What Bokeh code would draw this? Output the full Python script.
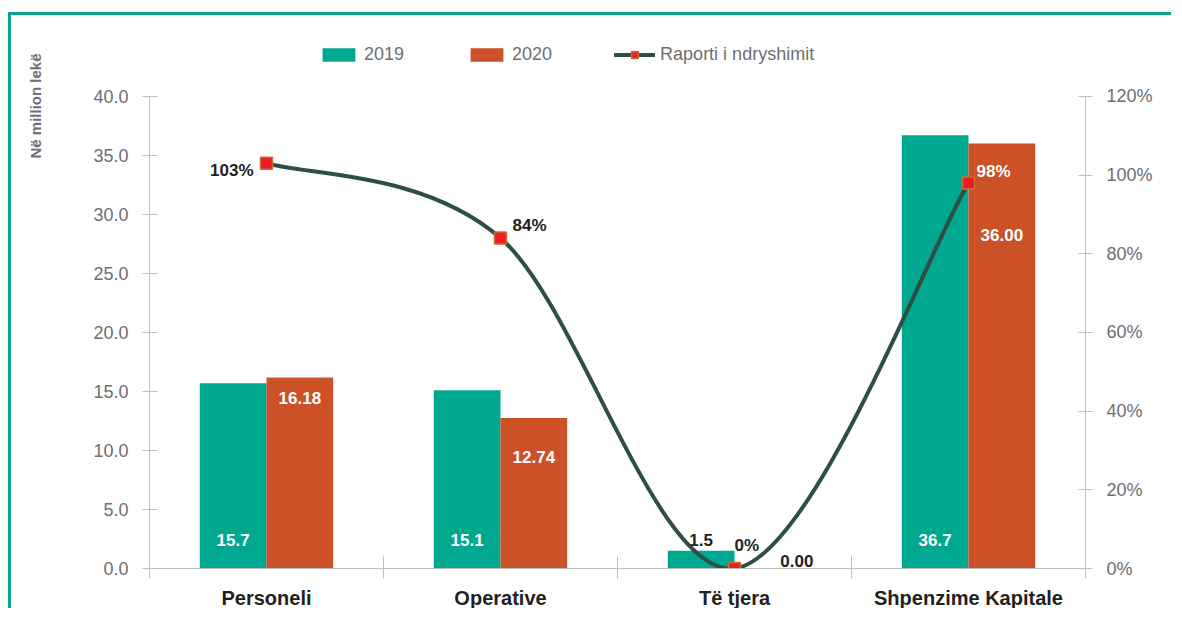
import math
from bokeh.plotting import figure
from bokeh.models import (ColumnDataSource, Range1d, LinearAxis, FixedTicker,
                          NumeralTickFormatter, PrintfTickFormatter, Legend,
                          LegendItem, Title)
from bokeh.core.properties import value
from bokeh.embed import file_html
from bokeh.resources import INLINE

# ---------------- data ----------------
categories = ["Personeli", "Operative", "Të tjera", "Shpenzime Kapitale"]
val_2019 = [15.7, 15.1, 1.5, 36.7]
val_2020 = [16.18, 12.74, 0.00, 36.00]
ratio_pct = [103, 84, 0, 98]
labels_2019 = ["15.7", "15.1", "1.5", "36.7"]
labels_2020 = ["16.18", "12.74", "0.00", "36.00"]
labels_ratio = ["103%", "84%", "0%", "98%"]
left_ticks = [0, 5, 10, 15, 20, 25, 30, 35, 40]
right_ticks = [0, 20, 40, 60, 80, 100, 120]

# ---------------- style ----------------
TEAL = "#00a88f"
ORANGE = "#cc5128"
LINE = "#2d4f46"
MARK = "#ed1c24"
MARK_EDGE = "#c8702c"
DARK = "#231f20"
GRAY = "#6d6e71"
AXIS = "#bfbfbf"
NARROW = "'Liberation Sans Narrow', 'Liberation Sans', sans-serif"
SANS = "'Liberation Sans', Arial, sans-serif"
BAR_W = 0.285
HEADROOM = 1.15   # extra room above the axis top for the legend

# label placement (pixels)
lab19_dy = [-29, -29, -29, -29]
lab19_col = ["white", "white", DARK, "white"]
lab20_dx = [0, 0, 29, 0]
lab20_dy = [20, 39, -8, 91]
lab20_col = ["white", "white", DARK, "white"]
rat_align = ["right", "left", "left", "left"]
rat_dx = [-13, 12, 0, 8]
rat_dy = [7, -12, -23, -11]
rat_col = [DARK, DARK, DARK, "white"]

n = len(categories)
centers = [i + 0.5 for i in range(n)]
x19 = [c - BAR_W / 2 for c in centers]
x20 = [c + BAR_W / 2 for c in centers]
left_max = max(left_ticks)
right_max = max(right_ticks)

p = figure(width=1163, height=596, output_backend="svg", toolbar_location=None,
           x_range=Range1d(0, n), y_range=Range1d(0, left_max * HEADROOM),
           min_border_left=136, min_border_right=89, min_border_top=10,
           min_border_bottom=42)
p.extra_y_ranges = {"pct": Range1d(0, right_max * HEADROOM)}
p.outline_line_color = None
p.xgrid.grid_line_color = None
p.ygrid.grid_line_color = None
p.background_fill_color = "white"
p.border_fill_color = "white"
p.styles = {"border-top": "3px solid #0ba48d", "border-left": "3px solid #0ba48d",
            "margin-top": "12px", "margin-left": "8px"}

# bars
src19 = ColumnDataSource(dict(x=x19, top=val_2019, lab=labels_2019,
                              dy=lab19_dy, col=lab19_col))
src20 = ColumnDataSource(dict(x=x20, top=val_2020, lab=labels_2020,
                              dx=lab20_dx, dy=lab20_dy, col=lab20_col))
r19 = p.vbar(x="x", top="top", width=BAR_W, bottom=0, source=src19,
             fill_color=TEAL, line_color=None)
r20 = p.vbar(x="x", top="top", width=BAR_W, bottom=0, source=src20,
             fill_color=ORANGE, line_color=None)

# smooth ratio line (Catmull-Rom -> Bezier)
pts = list(zip(centers, ratio_pct))
ext = [pts[0]] + pts + [pts[-1]]
bz = dict(x0=[], y0=[], x1=[], y1=[], cx0=[], cy0=[], cx1=[], cy1=[])
for i in range(n - 1):
    p_prev, p0, p1, p_next = ext[i], ext[i + 1], ext[i + 2], ext[i + 3]
    bz["x0"].append(p0[0]); bz["y0"].append(p0[1])
    bz["x1"].append(p1[0]); bz["y1"].append(p1[1])
    bz["cx0"].append(p0[0] + (p1[0] - p_prev[0]) / 6)
    bz["cy0"].append(p0[1] + (p1[1] - p_prev[1]) / 6)
    bz["cx1"].append(p1[0] - (p_next[0] - p0[0]) / 6)
    bz["cy1"].append(p1[1] - (p_next[1] - p0[1]) / 6)
rb = p.bezier(source=ColumnDataSource(bz), x0="x0", y0="y0", x1="x1", y1="y1",
              cx0="cx0", cy0="cy0", cx1="cx1", cy1="cy1", y_range_name="pct",
              line_color=LINE, line_width=4, line_cap="round")
srcr = ColumnDataSource(dict(x=centers, y=ratio_pct, lab=labels_ratio,
                             al=rat_align, dx=rat_dx, dy=rat_dy, col=rat_col))
rm = p.scatter(x="x", y="y", source=srcr, marker="square", size=12,
               fill_color=MARK, line_color=MARK_EDGE, line_width=1.5,
               y_range_name="pct")

# data labels
p.text(x="x", y=0, text="lab", source=src19, y_offset="dy", text_color="col",
       text_align="center", text_baseline="middle", text_font=value(SANS),
       text_font_style="bold", text_font_size="17px")
p.text(x="x", y="top", text="lab", source=src20, x_offset="dx", y_offset="dy",
       text_color="col", text_align="center", text_baseline="middle",
       text_font=value(SANS), text_font_style="bold", text_font_size="17px")
p.text(x="x", y="y", text="lab", source=srcr, x_offset="dx", y_offset="dy",
       text_color="col", text_align="al", text_baseline="middle",
       text_font=value(SANS), text_font_style="bold", text_font_size="17px",
       y_range_name="pct")

# x axis
xa = p.xaxis[0]
xa.ticker = FixedTicker(ticks=centers, minor_ticks=list(range(n + 1)))
xa.major_label_overrides = {c: lab for c, lab in zip(centers, categories)}
xa.major_tick_in = 0
xa.major_tick_out = 0
xa.minor_tick_in = 12
xa.minor_tick_out = 10
xa.minor_tick_line_color = AXIS
xa.axis_line_color = AXIS
xa.major_label_standoff = 8
xa.major_label_text_font = SANS
xa.major_label_text_font_style = "bold"
xa.major_label_text_font_size = "20px"
xa.major_label_text_color = DARK

# left axis
ya = p.yaxis[0]
ya.ticker = FixedTicker(ticks=left_ticks)
ya.bounds = (0, left_max)
ya.formatter = NumeralTickFormatter(format="0.0")
ya.major_tick_in = 8
ya.major_tick_out = 7
ya.minor_tick_line_color = None
ya.axis_line_color = AXIS
ya.major_tick_line_color = AXIS
ya.major_label_standoff = 14
ya.major_label_text_font = NARROW
ya.major_label_text_font_size = "18px"
ya.major_label_text_color = GRAY
# blank axis label only reserves room so the side title sits further out
ya.axis_label = " "
ya.axis_label_standoff = 15
ya.axis_label_text_font_size = "14px"

# right axis
ra = LinearAxis(y_range_name="pct", ticker=FixedTicker(ticks=right_ticks),
                formatter=PrintfTickFormatter(format="%d%%"),
                bounds=(0, right_max))
ra.major_tick_in = 7
ra.major_tick_out = 7
ra.minor_tick_line_color = None
ra.axis_line_color = AXIS
ra.major_tick_line_color = AXIS
ra.major_label_standoff = 14
ra.major_label_text_font = NARROW
ra.major_label_text_font_size = "18px"
ra.major_label_text_color = GRAY
p.add_layout(ra, "right")

# axis title (top-aligned on the left side)
p.add_layout(Title(text="Në million lekë", align="right", offset=28,
                   standoff=26, text_font=SANS, text_font_style="bold",
                   text_font_size="15px", text_color=GRAY), "left")

# legend
legend = Legend(items=[LegendItem(label="2019", renderers=[r19]),
                       LegendItem(label="2020", renderers=[r20]),
                       LegendItem(label="Raporti i ndryshimit", renderers=[rb, rm])],
                orientation="horizontal", location=(169, 503),
                glyph_width=41, glyph_height=17, label_height=17,
                label_standoff=5, spacing=62, padding=0, margin=0,
                border_line_color=None, background_fill_alpha=0,
                label_text_font=NARROW, label_text_font_size="18px",
                label_text_color=GRAY)
p.add_layout(legend, "center")

open("out.html", "w").write(file_html(p, INLINE))
